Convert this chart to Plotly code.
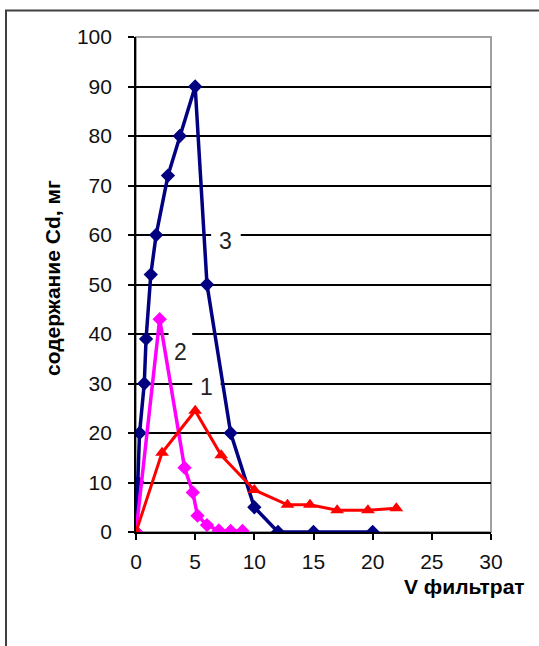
import plotly.graph_objects as go

# Series 1 (red, triangles)
x1 = [0, 2.2, 5, 7.2, 10, 12.8, 14.7, 17, 19.6, 22]
y1 = [0, 16, 24.5, 15.5, 8.5, 5.5, 5.5, 4.4, 4.4, 4.8]
# Series 2 (magenta, diamonds)
x2 = [0, 2, 4.1, 4.8, 5.2, 6, 7, 8, 9]
y2 = [0, 43, 13, 8, 3.3, 1.4, 0.3, 0.2, 0.2]
# Series 3 (navy, diamonds)
x3 = [0, 0.15, 0.3, 0.7, 0.85, 1.25, 1.7, 2.7, 3.7, 5, 6, 8, 10, 12, 15, 20]
y3 = [0, 10, 20, 30, 39, 52, 60, 72, 80, 90, 50, 20, 5, 0, 0, 0]

labels = ["1", "2", "3"]
label_x = [5.95, 3.75, 7.6]
label_y = [29.2, 36.3, 58.7]
label_halfw = [1.2, 1.0, 1.25]   # half width of white label box (x units)
label_halfh = [2.6, 4.0, 2.8]    # half height of white label box (y units)

x_ticks = [0, 5, 10, 15, 20, 25, 30]
y_ticks = [0, 10, 20, 30, 40, 50, 60, 70, 80, 90, 100]

W, H = 539, 646
L, R, T, B = 136, 491, 37, 532
pw, ph = R - L, B - T

def px(xp):
    return (xp - L) / pw

def py(yp):
    return (B - yp) / ph

FAM = "Liberation Sans, Arial, sans-serif"

fig = go.Figure()
fig.add_trace(go.Scatter(x=x3, y=y3, mode="lines+markers",
                         line=dict(color="#000080", width=3.5),
                         marker=dict(symbol="diamond", size=11, color="#000080")))
fig.add_trace(go.Scatter(x=x2, y=y2, mode="lines+markers",
                         line=dict(color="#FF00FF", width=3.5),
                         marker=dict(symbol="diamond", size=11, color="#FF00FF")))
fig.add_trace(go.Scatter(x=x1, y=y1, mode="lines+markers",
                         line=dict(color="#FF0000", width=3),
                         marker=dict(symbol="triangle-up", size=12, color="#FF0000")))

for t, lx, ly, hw, hh in zip(labels, label_x, label_y, label_halfw, label_halfh):
    # white box that interrupts the gridlines, drawn beneath the data lines
    fig.add_shape(type="rect", x0=lx - hw, x1=lx + hw, y0=ly - hh, y1=ly + hh,
                  fillcolor="white", line=dict(width=0), layer="between")
    fig.add_annotation(x=lx, y=ly, text=t, showarrow=False,
                       xanchor="center", yanchor="middle",
                       font=dict(family=FAM, size=23, color="#222222"))

fig.add_annotation(x=px(52), y=py(278), xref="paper", yref="paper",
                   xanchor="center", yanchor="middle",
                   text="<b>содержание Cd, мг</b>", textangle=-90, showarrow=False,
                   font=dict(family=FAM, size=21, color="#000000"))
fig.add_annotation(x=px(464), y=py(586), xref="paper", yref="paper",
                   xanchor="center", yanchor="middle",
                   text="<b>V фильтрат</b>", showarrow=False,
                   font=dict(family=FAM, size=21, color="#000000"))

# plot area border (gray) and outer chart border
fig.add_shape(type="rect", xref="paper", yref="paper", x0=0, y0=0, x1=1, y1=1,
              line=dict(color="#a0a0a0", width=2), layer="below")
fig.add_shape(type="rect", xref="paper", yref="paper",
              x0=px(6), y0=py(700), x1=px(600), y1=py(10.5),
              line=dict(color="#404040", width=2))

fig.update_layout(
    width=W, height=H,
    margin=dict(l=L, r=W - R, t=T, b=H - B),
    paper_bgcolor="white", plot_bgcolor="white",
    showlegend=False, font=dict(family=FAM, size=21, color="#000000"),
    xaxis=dict(range=[0, 30], tickvals=x_ticks, ticks="outside", ticklen=6,
               tickcolor="black", tickwidth=1.5, showline=True, linecolor="black",
               linewidth=1.7, showgrid=False, zeroline=False, ticklabelstandoff=4,
               tickfont=dict(family=FAM, size=21, color="#111111"), fixedrange=True),
    yaxis=dict(range=[0, 100], tickvals=y_ticks, ticks="outside", ticklen=6,
               tickcolor="black", tickwidth=1.5, showline=True, linecolor="black",
               linewidth=1.7, showgrid=True, gridcolor="black", gridwidth=1.5,
               zeroline=False, ticklabelstandoff=12,
               tickfont=dict(family=FAM, size=21, color="#111111"), fixedrange=True),
)

fig.write_html("out.html", config={"displayModeBar": False},
               post_script="document.body.style.margin='0';"
                           "document.documentElement.style.overflow='hidden';")
